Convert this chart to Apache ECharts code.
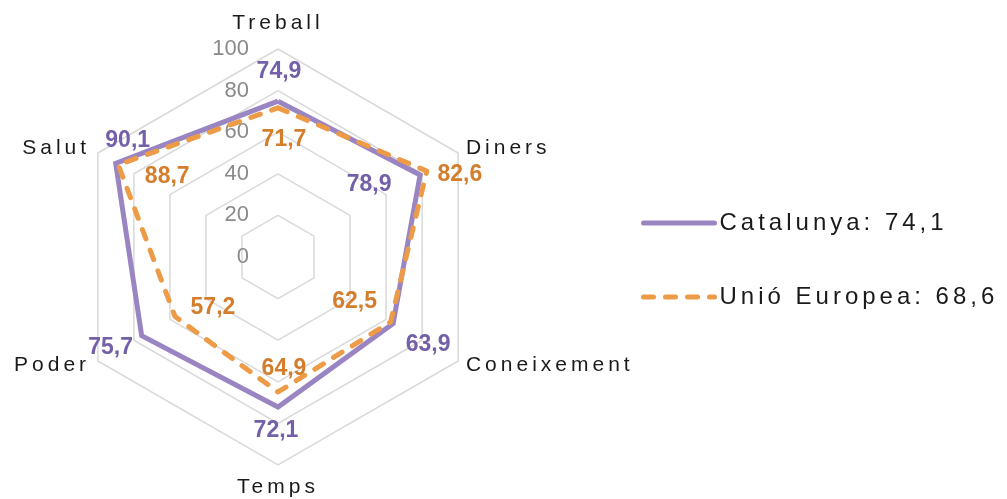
<!DOCTYPE html>
<html>
<head>
<meta charset="utf-8">
<script src="https://cdn.jsdelivr.net/npm/echarts@6/dist/echarts.min.js"></script>
<style>
html,body{margin:0;padding:0;background:#fff;}
#chart{width:1007px;height:499px;}
</style>
</head>
<body>
<div id="chart"></div>
<script>
// ---- data ----
const categories = ['Treball', 'Diners', 'Coneixement', 'Temps', 'Poder', 'Salut']; // clockwise from top
const seriesNames = ['Catalunya', 'Unió Europea'];
const seriesIndex = [74.1, 68.6];
const catalunya = [74.9, 78.9, 63.9, 72.1, 75.7, 90.1];
const unioEuropea = [71.7, 82.6, 62.5, 64.9, 57.2, 88.7];
const axisMax = 100;
const axisSplits = 5;

// ---- styling (label offsets relative to each point, in px) ----
const catOffsets = [[1, -30], [-51, 10], [35, 21], [-2, 24], [-31, 12], [12, -23]];
const euOffsets = [[6, 32], [33, 4], [-36, -20], [6, -23], [38, -9], [49, 12]];

// letter spacing for names/legend (family marker 'xspaced')
(function () {
  const P = CanvasRenderingContext2D.prototype;
  ['fillText', 'strokeText'].forEach(function (fn) {
    const orig = P[fn];
    P[fn] = function () {
      const sp = /xspaced/.test(this.font);
      if (sp) this.letterSpacing = '4px';
      const r = orig.apply(this, arguments);
      if (sp) this.letterSpacing = '0px';
      return r;
    };
  });
})();

const fmt = v => v.toFixed(1).replace('.', ',');
const n = categories.length;
const CX = 278, CY = 257, R = 208;

function buildData(vals, offsets) {
  const d = vals.map((v, i) => ({
    value: [v, i * 360 / n],
    label: { offset: offsets[i] }
  }));
  d.push({ value: [vals[0], 360], label: { show: false } });
  return d;
}

const radarIndicators = [categories[0]].concat(categories.slice(1).reverse()).map((c, i) => {
  const o = { name: c, min: 0, max: axisMax };
  if (i === 0) o.axisLabel = { show: true };
  return o;
});

const chart = echarts.init(document.getElementById('chart'), null, { renderer: 'canvas' });
chart.setOption({
  animation: false,
  backgroundColor: '#ffffff',
  radar: {
    center: [CX, CY],
    radius: R,
    startAngle: 90,
    splitNumber: axisSplits,
    shape: 'polygon',
    nameGap: 9,
    axisName: {
      color: '#1a1a1a',
      fontSize: 21,
      fontFamily: 'Liberation Sans, xspaced',
      padding: [3, 0, 6, 0]
    },
    indicator: radarIndicators,
    axisLine: { show: false },
    axisTick: { show: false },
    axisLabel: {
      show: false,
      color: '#8a8a8a',
      fontSize: 22,
      fontFamily: 'Liberation Sans',
      margin: 29
    },
    splitArea: { show: false },
    splitLine: { lineStyle: { color: '#d9d9d9', width: 1.5 } }
  },
  polar: { center: [CX, CY], radius: R },
  angleAxis: {
    type: 'value', min: 0, max: 360, startAngle: 90, clockwise: true,
    show: false, splitLine: { show: false }, axisLine: { show: false }
  },
  radiusAxis: {
    type: 'value', min: 0, max: axisMax, show: false,
    splitLine: { show: false }, axisLine: { show: false }
  },
  legend: {
    orient: 'vertical',
    left: 641,
    top: 211,
    padding: 0,
    itemWidth: 71,
    itemHeight: 14,
    itemGap: 50,
    textStyle: { fontSize: 24, color: '#1a1a1a', fontFamily: 'Liberation Sans, xspaced' },
    itemStyle: { opacity: 0 },
    lineStyle: { width: 5, cap: 'round' },
    data: seriesNames.map((s, i) => s + ': ' + fmt(seriesIndex[i]))
  },
  series: [
    {
      name: seriesNames[0] + ': ' + fmt(seriesIndex[0]),
      type: 'line',
      coordinateSystem: 'polar',
      symbol: 'circle',
      symbolSize: 1,
      color: '#9a85c3',
      lineStyle: { color: '#9a85c3', width: 5, join: 'miter' },
      label: {
        show: true, position: 'inside', color: '#7360a8',
        fontSize: 23, fontWeight: 'bold', fontFamily: 'Liberation Sans',
        formatter: p => fmt(p.value[0])
      },
      data: buildData(catalunya, catOffsets)
    },
    {
      name: seriesNames[1] + ': ' + fmt(seriesIndex[1]),
      type: 'line',
      coordinateSystem: 'polar',
      symbol: 'circle',
      symbolSize: 1,
      color: '#ed9b46',
      lineStyle: { color: '#ed9b46', width: 5, type: [10, 12], cap: 'round', join: 'round' },
      label: {
        show: true, position: 'inside', color: '#d47e2c',
        fontSize: 23, fontWeight: 'bold', fontFamily: 'Liberation Sans',
        formatter: p => fmt(p.value[0])
      },
      data: buildData(unioEuropea, euOffsets)
    }
  ]
});
</script>
</body>
</html>
